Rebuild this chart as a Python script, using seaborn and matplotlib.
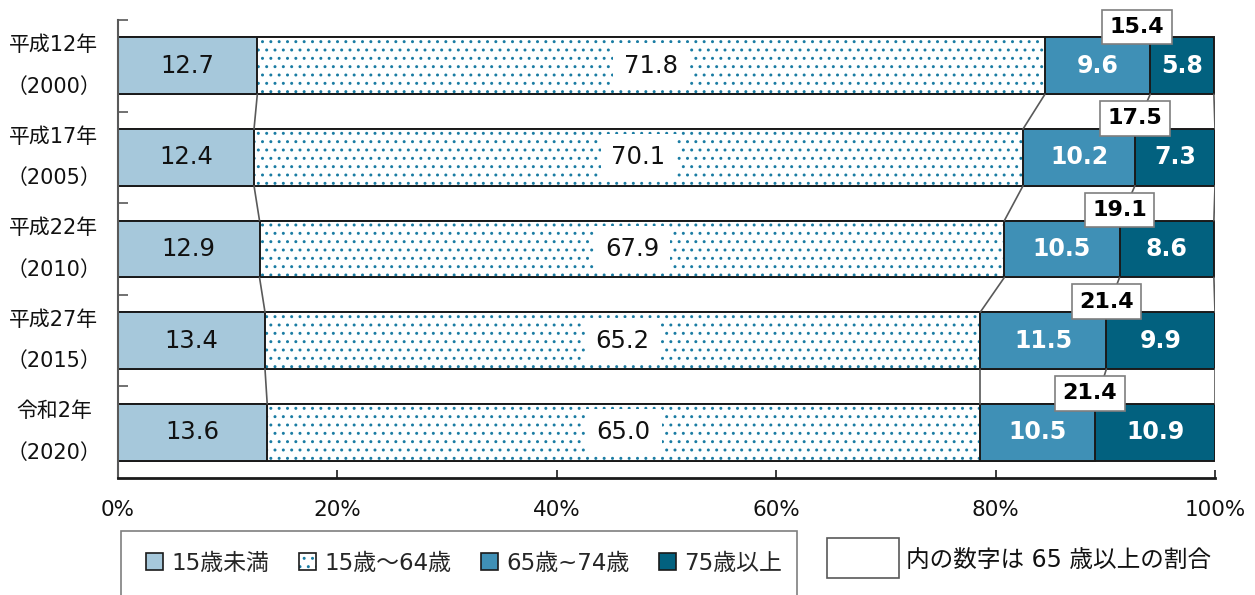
import numpy as np
import pandas as pd
import matplotlib
matplotlib.use("Agg")
import matplotlib.pyplot as plt
from matplotlib.patches import Patch, Rectangle
from matplotlib.legend_handler import HandlerTuple
import seaborn as sns

# Population share by age group (%)
years = ["平成12年\n（2000）", "平成17年\n（2005）", "平成22年\n（2010）",
         "平成27年\n（2015）", "令和2年\n（2020）"]
under_15 = [12.7, 12.4, 12.9, 13.4, 13.6]
age_15_64 = [71.8, 70.1, 67.9, 65.2, 65.0]
age_65_74 = [9.6, 10.2, 10.5, 11.5, 10.5]
age_75_over = [5.8, 7.3, 8.6, 9.9, 10.9]
share_65_over = [15.4, 17.5, 19.1, 21.4, 21.4]
series_names = ["15歳未満", "15歳～64歳", "65歳~74歳", "75歳以上"]
x_ticks = [0, 20, 40, 60, 80, 100]
note_text = "内の数字は 65 歳以上の割合"

C_UNDER = "#A6C8DB"
C_DOT = "#1A7CA3"
C_6574 = "#3F90B6"
C_75 = "#02617F"
EDGE = "#1a1a1a"
LINE = "#595959"

sns.set_theme(style="white")
plt.rcParams["font.family"] = ["DejaVu Sans", "Noto Sans CJK JP"]
plt.rcParams["hatch.linewidth"] = 0.95

W, H = 1255, 595
fig = plt.figure(figsize=(W / 100, H / 100), dpi=100)
ax = fig.add_axes([118 / W, 1 - 478 / H, 1097 / W, 458 / H])

parts = np.array([under_15, age_15_64, age_65_74, age_75_over])
cum = parts.cumsum(axis=0)
df = pd.DataFrame({"year": years})
for k in range(4):
    df[f"c{k}"] = cum[k]

BAR_W = 0.62
LW = 1.4
common = dict(y="year", orient="h", width=BAR_W, saturation=1, ax=ax)

# stacked bars drawn as overlapping cumulative bars, outermost first
sns.barplot(data=df, x="c3", color=C_75, edgecolor=EDGE, linewidth=LW, **common)
sns.barplot(data=df, x="c2", color=C_6574, edgecolor=EDGE, linewidth=LW, **common)
n_before = len(ax.patches)
sns.barplot(data=df, x="c1", color="white", linewidth=0, **common)
for p in ax.patches[n_before:]:
    p.set_hatch("..")
    p.set_edgecolor(C_DOT)
    p.set_linewidth(0)
sns.barplot(data=df, x="c1", color=EDGE, fill=False, linewidth=LW, **common)
sns.barplot(data=df, x="c0", color=C_UNDER, edgecolor=EDGE, linewidth=LW, **common)

ax.set_xlabel("")
ax.set_ylabel("")
ax.set_xlim(0, 100)
ax.set_ylim(len(years) - 0.5, -0.5)

# series lines joining segment boundaries of neighbouring bars
half = BAR_W / 2
for k in range(4):
    for i in range(len(years) - 1):
        ax.plot([cum[k][i], cum[k][i + 1]], [i + half, i + 1 - half],
                color=LINE, lw=1.2, zorder=1)

# value labels
box_nudge = [-1.2, 0.0, 0.0, 0.0, -0.5]
for i in range(len(years)):
    lefts = [0, cum[0][i], cum[1][i], cum[2][i]]
    ax.text(lefts[0] + under_15[i] / 2, i, f"{under_15[i]:.1f}",
            ha="center", va="center", fontsize=17.5, color="#111111", zorder=4)
    ax.text(lefts[1] + age_15_64[i] / 2, i, f"{age_15_64[i]:.1f}",
            ha="center", va="center", fontsize=17.5, color="#111111", zorder=4,
            bbox=dict(boxstyle="square,pad=0.45", fc="white", ec="none"))
    ax.text(lefts[2] + age_65_74[i] / 2, i, f"{age_65_74[i]:.1f}",
            ha="center", va="center", fontsize=17, color="white",
            fontweight="bold", zorder=4)
    ax.text(lefts[3] + age_75_over[i] / 2, i, f"{age_75_over[i]:.1f}",
            ha="center", va="center", fontsize=17, color="white",
            fontweight="bold", zorder=4)
    ax.text(cum[2][i] + box_nudge[i], i - half - 0.115, f"{share_65_over[i]:.1f}",
            ha="center", va="center", fontsize=16, color="black",
            fontweight="bold", zorder=6,
            bbox=dict(boxstyle="square,pad=0.33", fc="white", ec="#7f7f7f", lw=1.2))

# axes styling
ax.set_xticks(x_ticks)
ax.set_xticklabels([f"{t}%" for t in x_ticks])
ax.tick_params(axis="x", which="major", direction="in", length=6, width=1.2,
               color=EDGE, bottom=True, pad=16, labelsize=15.5, labelcolor="#111111")
ax.set_yticks(range(len(years)))
ax.set_yticklabels(years)
ax.tick_params(axis="y", which="major", length=0, left=False, pad=12,
               labelsize=15, labelcolor="#111111")
ax.set_yticks(np.arange(len(years)) - 0.5, minor=True)
ax.tick_params(axis="y", which="minor", direction="in", length=7, width=1.2,
               color=LINE, left=True)
for t in ax.get_yticklabels():
    t.set_linespacing(2.35)
    t.set_multialignment("center")
    t.set_verticalalignment("center")

for s in ["top", "right"]:
    ax.spines[s].set_visible(False)
ax.spines["left"].set_color(LINE)
ax.spines["left"].set_linewidth(1.5)
ax.spines["bottom"].set_color(EDGE)
ax.spines["bottom"].set_linewidth(2)
ax.grid(False)

# legend
handles = [
    Patch(fc=C_UNDER, ec=EDGE, lw=1.2),
    (Patch(fc="white", ec=C_DOT, hatch="..", lw=0), Patch(fc="none", ec=EDGE, lw=1.2)),
    Patch(fc=C_6574, ec=EDGE, lw=1.2),
    Patch(fc=C_75, ec=EDGE, lw=1.2),
]
fig.legend(handles, series_names, loc="center left",
           bbox_to_anchor=(146 / W, 1 - 563 / H), ncol=4, frameon=False,
           fontsize=16.5, handlelength=0.75, handleheight=0.75, handletextpad=0.35,
           columnspacing=1.3, borderaxespad=0, borderpad=0,
           handler_map={tuple: HandlerTuple(ndivide=1, pad=0)})
fig.add_artist(Rectangle((121 / W, -0.05), (797 - 121) / W, (1 - 531 / H) + 0.05,
                         transform=fig.transFigure, fc="none", ec="#7f7f7f", lw=1.2))

fig.add_artist(Rectangle((827 / W, 1 - 578 / H), 72 / W, 40 / H,
                         transform=fig.transFigure, fc="white", ec=LINE, lw=1.2))
fig.text(906 / W, 1 - 560 / H, note_text, ha="left", va="center",
         fontsize=17, color="#111111")

fig.savefig("out.png", dpi=100)
